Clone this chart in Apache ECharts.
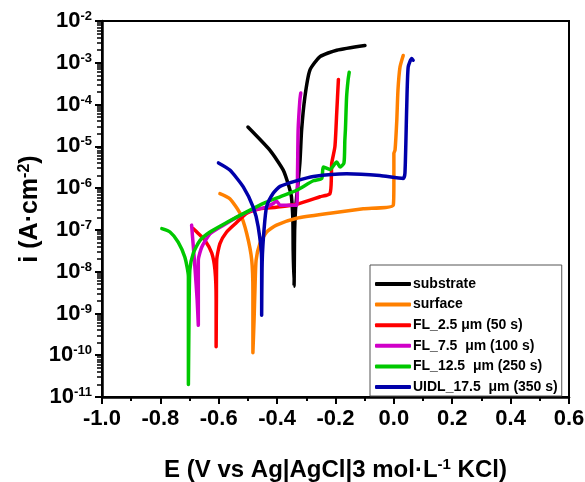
<!DOCTYPE html>
<html>
<head>
<meta charset="utf-8">
<script src="https://cdn.jsdelivr.net/npm/echarts@6/dist/echarts.min.js"></script>
<style>
  html, body { margin: 0; padding: 0; background: #ffffff; }
  #chart { width: 585px; height: 482px; }
</style>
</head>
<body>
<div id="chart"></div>
<script>
// Potentiodynamic polarization curves: potential E (V) vs current density i (A/cm2)

const seriesNames = [
  'substrate',
  'surface',
  'FL_2.5 \u03bcm (50 s)',
  'FL_7.5  \u03bcm (100 s)',
  'FL_12.5  \u03bcm (250 s)',
  'UIDL_17.5  \u03bcm (350 s)'
];

const substrateE = [-0.500, -0.425, -0.379, -0.359, -0.351, -0.346, -0.345, -0.342, -0.341, -0.340, -0.337, -0.333, -0.322, -0.316, -0.305, -0.288, -0.253, -0.196, -0.099];
const substrateI = [2.9e-5, 8.1e-6, 2.7e-6, 1.07e-6, 6.2e-7, 1.7e-7, 3.2e-8, 4.5e-9, 1.9e-8, 1.0e-7, 3.0e-7, 6.2e-7, 4.0e-6, 2.5e-5, 1.5e-4, 6.6e-4, 1.4e-3, 2.0e-3, 2.6e-3];

const surfaceE = [-0.596, -0.562, -0.527, -0.504, -0.487, -0.483, -0.483, -0.483, -0.479, -0.476, -0.472, -0.459, -0.436, -0.402, -0.333, -0.219, -0.105, -0.002, 0.000, 0.000, 0.004, 0.010, 0.014, 0.021, 0.032];
const surfaceI = [7.4e-7, 5.6e-7, 2.5e-7, 8.1e-8, 1.9e-8, 3.1e-9, 6.9e-10, 1.15e-10, 6.9e-10, 3.6e-9, 1.9e-8, 4.7e-8, 8.9e-8, 1.3e-7, 1.9e-7, 2.5e-7, 3.2e-7, 3.9e-7, 1.5e-6, 6.8e-6, 8.1e-6, 4.2e-5, 2.2e-4, 7.9e-4, 1.5e-3];

const fl25E = [-0.687, -0.671, -0.647, -0.624, -0.613, -0.609, -0.609, -0.608, -0.607, -0.596, -0.573, -0.539, -0.504, -0.459, -0.402, -0.333, -0.253, -0.219, -0.214, -0.213, -0.202, -0.196, -0.190];
const fl25I = [1.07e-7, 8.3e-8, 5.6e-8, 2.8e-8, 1.1e-8, 2.1e-9, 1.6e-10, 2.1e-9, 1.9e-8, 4.7e-8, 8.9e-8, 1.5e-7, 2.5e-7, 3.2e-7, 3.5e-7, 4.1e-7, 6.2e-7, 7.4e-7, 2.0e-6, 3.9e-6, 9.8e-6, 6.0e-5, 4.0e-4];

const fl75E = [-0.693, -0.687, -0.681, -0.674, -0.670, -0.670, -0.670, -0.658, -0.630, -0.584, -0.527, -0.482, -0.436, -0.413, -0.402, -0.390, -0.333, -0.330, -0.328, -0.322, -0.319];
const fl75I = [1.3e-7, 3.9e-8, 1.1e-8, 2.1e-9, 5.2e-10, 2.1e-9, 1.9e-8, 3.9e-8, 8.1e-8, 1.3e-7, 2.2e-7, 3.0e-7, 3.5e-7, 4.3e-7, 4.9e-7, 3.9e-7, 3.9e-7, 2.7e-6, 2.5e-5, 1.3e-4, 1.9e-4];

const fl125E = [-0.795, -0.767, -0.739, -0.716, -0.704, -0.704, -0.704, -0.702, -0.699, -0.687, -0.664, -0.630, -0.573, -0.504, -0.447, -0.390, -0.333, -0.276, -0.247, -0.242, -0.219, -0.196, -0.184, -0.171, -0.168, -0.166, -0.162, -0.157, -0.153];
const fl125I = [1.07e-7, 8.9e-8, 5.1e-8, 2.2e-8, 7.6e-9, 6.9e-10, 2.0e-11, 6.9e-10, 1.1e-8, 2.8e-8, 5.6e-8, 8.9e-8, 1.5e-7, 2.7e-7, 4.3e-7, 6.2e-7, 8.9e-7, 1.5e-6, 1.7e-6, 3.2e-6, 2.8e-6, 4.2e-6, 3.2e-6, 4.0e-6, 1.4e-5, 2.5e-5, 1.5e-4, 3.8e-4, 5.9e-4];

const uidlE = [-0.601, -0.562, -0.516, -0.482, -0.465, -0.453, -0.453, -0.451, -0.445, -0.436, -0.413, -0.390, -0.333, -0.276, -0.162, -0.048, 0.032, 0.038, 0.044, 0.049, 0.061, 0.066];
const uidlI = [4.0e-6, 2.7e-6, 1.07e-6, 3.5e-7, 1.2e-7, 1.9e-8, 9.1e-10, 1.9e-8, 9.8e-8, 3.6e-7, 7.6e-7, 1.1e-6, 1.5e-6, 1.9e-6, 2.2e-6, 2.0e-6, 1.7e-6, 2.3e-6, 8.7e-5, 7.9e-4, 1.26e-3, 1.15e-3];

const seriesColors = ['#000000', '#ff8000', '#ff0000', '#d000c8', '#00c800', '#0000aa'];

const xMin = -1.0, xMax = 0.6, xStep = 0.2;
const yMin = 1e-11, yMax = 1e-2;

const curves = [
  [substrateE, substrateI],
  [surfaceE, surfaceI],
  [fl25E, fl25I],
  [fl75E, fl75I],
  [fl125E, fl125I],
  [uidlE, uidlI]
];

const FONT = "'Liberation Sans', Arial, sans-serif";

const chart = echarts.init(document.getElementById('chart'), null, { renderer: 'canvas' });

chart.setOption({
  animation: false,
  backgroundColor: '#ffffff',
  grid: {
    left: 102, top: 21, right: 16, bottom: 85,
    containLabel: false,
    outerBoundsMode: 'none',
    show: true, borderColor: '#000', borderWidth: 2, backgroundColor: 'transparent'
  },
  legend: {
    orient: 'vertical',
    left: 370, top: 265,
    padding: [11, 4, 1, 5],
    itemGap: 4.6,
    itemWidth: 36, itemHeight: 4,
    icon: 'roundRect',
    borderColor: '#555', borderWidth: 1,
    backgroundColor: '#ffffff',
    textStyle: { fontFamily: FONT, fontWeight: 'bold', fontSize: 14, color: '#000', lineHeight: 16, padding: [0, 0, 0, -3] },
    data: seriesNames
  },
  xAxis: {
    type: 'value',
    min: xMin, max: xMax, interval: xStep,
    name: '{t|E (V vs Ag|AgCl|3 mol\u00b7L}{s|-1}{t| KCl)}',
    nameLocation: 'middle',
    nameGap: 60,
    nameMoveOverlap: false,
    nameTextStyle: {
      rich: {
        t: { fontFamily: FONT, fontWeight: 'bold', fontSize: 24, color: '#000', lineHeight: 26 },
        s: { fontFamily: FONT, fontWeight: 'bold', fontSize: 15, color: '#000', lineHeight: 15, verticalAlign: 'top' }
      }
    },
    axisLine: { onZero: false, lineStyle: { color: '#000', width: 2.5 } },
    axisTick: { inside: false, length: 7, lineStyle: { color: '#000', width: 2 } },
    minorTick: { show: true, splitNumber: 2, length: 4, lineStyle: { color: '#000', width: 2 } },
    splitLine: { show: false },
    axisLabel: {
      margin: 11,
      fontFamily: FONT, fontWeight: 'bold', fontSize: 22, color: '#000',
      formatter: v => v.toFixed(1)
    }
  },
  yAxis: {
    type: 'log', logBase: 10,
    min: yMin, max: yMax, splitNumber: 9,
    position: 'left',
    name: '{t|i (A\u00b7cm}{s|-2}{t|)}',
    nameLocation: 'middle',
    nameGap: 58,
    nameMoveOverlap: false,
    nameTextStyle: {
      rich: {
        t: { fontFamily: FONT, fontWeight: 'bold', fontSize: 25, color: '#000', lineHeight: 27 },
        s: { fontFamily: FONT, fontWeight: 'bold', fontSize: 16, color: '#000', lineHeight: 16, verticalAlign: 'top' }
      }
    },
    axisLine: { onZero: false, lineStyle: { color: '#000', width: 2.5 } },
    axisTick: { inside: false, length: 7, lineStyle: { color: '#000', width: 2 } },
    // minor ticks at 2..9 within each decade
    minorTick: { show: true, splitNumber: 9, length: 5, lineStyle: { color: '#000', width: 1.5 } },
    splitLine: { show: false },
    minorSplitLine: { show: false },
    axisLabel: {
      margin: 10,
      formatter: v => '{b|10}{s|' + Math.round(Math.log10(v)) + '}',
      rich: {
        b: { fontFamily: FONT, fontWeight: 'bold', fontSize: 22, color: '#000', lineHeight: 22 },
        s: { fontFamily: FONT, fontWeight: 'bold', fontSize: 13, color: '#000', lineHeight: 13, verticalAlign: 'top' }
      }
    }
  },
  series: curves.map((c, k) => ({
    name: seriesNames[k],
    type: 'line',
    showSymbol: false,
    symbol: 'none',
    smooth: 0.2,
    color: seriesColors[k],
    lineStyle: { width: 3.5, color: seriesColors[k], cap: 'round', join: 'round' },
    data: c[0].map((e, j) => [e, c[1][j]])
  }))
});
</script>
</body>
</html>
